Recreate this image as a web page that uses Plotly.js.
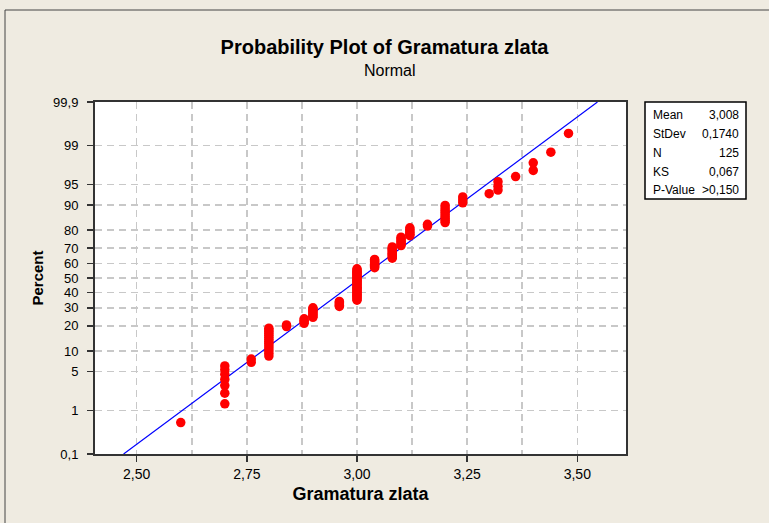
<!DOCTYPE html>
<html>
<head>
<meta charset="utf-8">
<script src="https://cdn.plot.ly/plotly-3.0.1.min.js"></script>
<style>
  html, body { margin: 0; padding: 0; background: #efebe1; }
  #chart { width: 769px; height: 523px; }
</style>
</head>
<body>
<div id="chart"></div>
<script>
// ---- Data ----
const values = [2.60, 2.70, 2.76, 2.80, 2.84, 2.88, 2.90, 2.96, 3.00, 3.04, 3.08,
                3.10, 3.12, 3.16, 3.20, 3.24, 3.30, 3.32, 3.36, 3.40, 3.44, 3.48];
const counts = [1, 7, 2, 14, 2, 4, 8, 5, 28, 8, 10,
                7, 6, 2, 9, 3, 1, 3, 1, 2, 1, 1];
const mean = 3.008;
const stdev = 0.1740;
const nObs = 125;
const percentTicks = [0.1, 1, 5, 10, 20, 30, 40, 50, 60, 70, 80, 90, 95, 99, 99.9];
const percentTickText = ["0,1", "1", "5", "10", "20", "30", "40", "50", "60", "70", "80", "90", "95", "99", "99,9"];
const xTickVals = [2.50, 2.75, 3.00, 3.25, 3.50];
const xTickText = ["2,50", "2,75", "3,00", "3,25", "3,50"];
const xMinorGrid = [2.625, 2.875, 3.125, 3.375];
const statLabels = ["Mean", "StDev", "N", "KS", "P-Value"];
const statValues = ["3,008", "0,1740", "125", "0,067", ">0,150"];

// ---- Normal probability scale (inverse normal CDF, Acklam) ----
function probit(p) {
  const a = [-3.969683028665376e+01, 2.209460984245205e+02, -2.759285104469687e+02,
             1.383577518672690e+02, -3.066479806614716e+01, 2.506628277459239e+00];
  const b = [-5.447609879822406e+01, 1.615858368580409e+02, -1.556989798598866e+02,
             6.680131188771972e+01, -1.328068155288572e+01];
  const c = [-7.784894002430293e-03, -3.223964580411365e-01, -2.400758277161838e+00,
             -2.549732539343734e+00, 4.374664141464968e+00, 2.938163982698783e+00];
  const d = [7.784695709041462e-03, 3.224671290700398e-01, 2.445134137142996e+00,
             3.754408661907416e+00];
  const pl = 0.02425, ph = 1 - pl;
  let q, r;
  if (p < pl) {
    q = Math.sqrt(-2 * Math.log(p));
    return (((((c[0]*q + c[1])*q + c[2])*q + c[3])*q + c[4])*q + c[5]) /
           ((((d[0]*q + d[1])*q + d[2])*q + d[3])*q + 1);
  } else if (p <= ph) {
    q = p - 0.5; r = q * q;
    return (((((a[0]*r + a[1])*r + a[2])*r + a[3])*r + a[4])*r + a[5]) * q /
           (((((b[0]*r + b[1])*r + b[2])*r + b[3])*r + b[4])*r + 1);
  } else {
    q = Math.sqrt(-2 * Math.log(1 - p));
    return -(((((c[0]*q + c[1])*q + c[2])*q + c[3])*q + c[4])*q + c[5]) /
            ((((d[0]*q + d[1])*q + d[2])*q + d[3])*q + 1);
  }
}

// Points: each observation at its median-rank plotting position
const px = [], py = [], ptxt = [];
let rank = 0;
values.forEach((v, k) => {
  for (let j = 0; j < counts[k]; j++) {
    rank += 1;
    const pct = (rank - 0.3) / (nObs + 0.4);
    px.push(v);
    py.push(probit(pct));
    ptxt.push((pct * 100).toFixed(2) + " %");
  }
});

const zLow = probit(0.001), zHigh = probit(0.999);
const fitX = [mean + stdev * zLow, mean + stdev * zHigh];
const fitY = [zLow, zHigh];

// plot area in pixels
const L = 95, R = 626, T = 102, B = 454, W = 769, H = 523;
const pxX = p => (p - L) / (R - L);
const pxY = p => (B - p) / (B - T);

const gridStyle = { gridcolor: "#c8c8c8", griddash: "7px,5px", gridwidth: 1.5 };
const fontFam = "Liberation Sans, Arial, sans-serif";

const traces = [
  {
    x: fitX, y: fitY, type: "scatter", mode: "lines",
    line: { color: "#0000ff", width: 1.2 }, hoverinfo: "skip", showlegend: false
  },
  {
    x: px, y: py, type: "scatter", mode: "markers", text: ptxt,
    marker: { color: "#ff0000", size: 9.5, line: { width: 0 } },
    hovertemplate: "%{x}<br>%{text}<extra></extra>", showlegend: false
  }
];

const annotations = [
  {
    text: "Normal", xref: "paper", yref: "paper",
    x: pxX(W / 2 + 5), y: pxY(70), xanchor: "center", yanchor: "middle",
    showarrow: false, font: { family: fontFam, size: 16, color: "#000" }
  }
];
const rowY = [115, 134, 153, 171.5, 190];
statLabels.forEach((lab, i) => {
  annotations.push({
    text: lab, xref: "paper", yref: "paper", x: pxX(651), y: pxY(rowY[i]),
    xanchor: "left", yanchor: "middle", showarrow: false,
    font: { family: fontFam, size: 12, color: "#000" }
  });
  annotations.push({
    text: statValues[i], xref: "paper", yref: "paper", x: pxX(741), y: pxY(rowY[i]),
    xanchor: "right", yanchor: "middle", showarrow: false,
    font: { family: fontFam, size: 12, color: "#000" }
  });
});

const shapes = [
  // outer frame (left and top edges of the graph window)
  { type: "line", xref: "paper", yref: "paper", x0: pxX(5), x1: pxX(W + 5), y0: pxY(10), y1: pxY(10),
    line: { color: "#444", width: 1 } },
  { type: "line", xref: "paper", yref: "paper", x0: pxX(5), x1: pxX(5), y0: pxY(10), y1: pxY(H + 5),
    line: { color: "#444", width: 1 } },
  // statistics box
  { type: "rect", xref: "paper", yref: "paper", x0: pxX(645), x1: pxX(746), y0: pxY(199), y1: pxY(102),
    fillcolor: "#ffffff", line: { color: "#000", width: 1.5 }, layer: "below" }
];

const layout = {
  width: W, height: H,
  paper_bgcolor: "#efebe1", plot_bgcolor: "#ffffff",
  margin: { l: L, r: W - R, t: T, b: H - B, pad: 0 },
  font: { family: fontFam, color: "#000" },
  title: {
    text: "<b>Probability Plot of Gramatura zlata</b>",
    font: { family: fontFam, size: 20, color: "#000" },
    x: 0.5, xref: "container", xanchor: "center",
    y: 1 - 47 / H, yref: "container", yanchor: "middle"
  },
  xaxis: Object.assign({
    range: [2.4054, 3.6105], tickmode: "array", tickvals: xTickVals, ticktext: xTickText,
    ticks: "outside", ticklen: 6, tickwidth: 1.5, tickcolor: "#333",
    showline: true, mirror: true, linecolor: "#333", linewidth: 2,
    zeroline: false, showgrid: true,
    tickfont: { family: fontFam, size: 14, color: "#000" },
    title: { text: "<b>Gramatura zlata</b>", font: { family: fontFam, size: 18, color: "#000" }, standoff: 7 },
    minor: { tickmode: "array", tickvals: xMinorGrid, showgrid: true, ticks: "",
             gridcolor: "#c8c8c8", griddash: "7px,5px", gridwidth: 1.5 },
    automargin: false
  }, gridStyle),
  yaxis: Object.assign({
    range: [zLow, zHigh], tickmode: "array",
    tickvals: percentTicks.map(p => probit(p / 100)), ticktext: percentTickText,
    ticks: "outside", ticklen: 6, tickwidth: 1.5, tickcolor: "#333",
    ticklabelstandoff: 6,
    showline: true, mirror: true, linecolor: "#333", linewidth: 2,
    zeroline: false, showgrid: true,
    tickfont: { family: fontFam, size: 13, color: "#000" },
    title: { text: "<b>Percent</b>", font: { family: fontFam, size: 15, color: "#000" }, standoff: 6 },
    automargin: false
  }, gridStyle),
  annotations: annotations,
  shapes: shapes,
  showlegend: false
};

Plotly.newPlot("chart", traces, layout, { displayModeBar: false, staticPlot: true });
</script>
</body>
</html>
